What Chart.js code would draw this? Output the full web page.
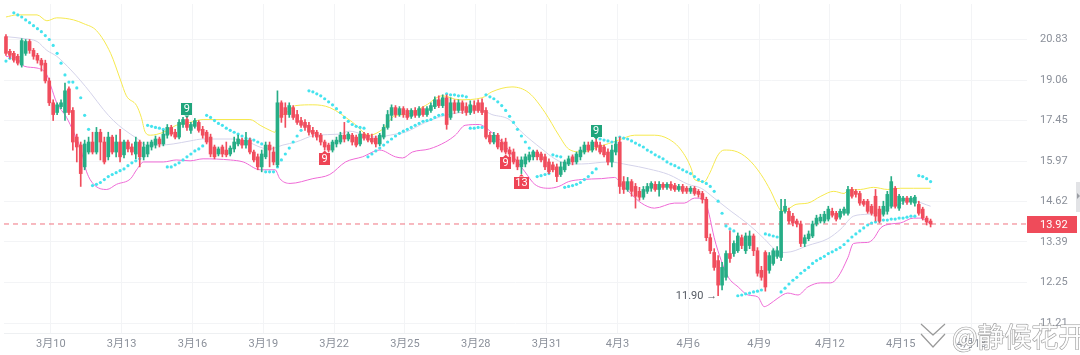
<!DOCTYPE html>
<html><head><meta charset="utf-8">
<script src="https://cdn.jsdelivr.net/npm/chart.js@4/dist/chart.umd.min.js"></script>
<style>html,body{margin:0;padding:0;background:#fff;overflow:hidden}#wrap{width:1080px;height:355px;position:relative}</style>
</head><body><div id="wrap"><canvas id="c" width="1080" height="355" style="width:1080px;height:355px"></canvas></div>
<script>
// ---- data (4-hour candles, index 0 = first candle) ----
const opens=[20.96,20.30,20.21,20.08,19.70,20.21,20.74,20.34,20.12,19.91,
19.78,19.03,18.14,17.76,17.99,17.76,18.70,17.84,16.83,16.54,
15.77,16.29,16.65,16.29,17.01,16.65,16.12,16.83,16.29,16.65,
16.19,16.65,16.47,16.22,16.65,16.12,16.22,16.47,16.54,16.76,
16.58,16.90,17.19,17.01,16.83,17.30,17.49,17.08,17.23,17.38,
17.12,17.01,16.83,16.47,16.22,16.47,16.36,16.22,16.40,16.58,
16.72,16.54,16.72,16.29,16.12,15.77,16.12,16.54,16.29,15.84,
18.14,17.95,17.68,17.95,17.68,17.45,17.38,17.27,17.08,17.01,
16.90,16.65,16.54,16.36,16.58,16.65,16.90,16.76,16.90,16.83,
16.58,16.94,16.90,16.79,16.79,16.58,16.83,17.19,17.65,17.95,
17.68,17.91,17.84,17.61,17.84,17.65,17.91,17.68,17.84,17.99,
18.26,18.03,18.34,17.57,18.14,17.84,18.14,17.99,17.76,18.03,
18.14,18.14,17.84,16.90,16.65,16.90,16.65,16.65,16.36,16.29,
16.01,15.77,15.87,16.01,16.12,16.29,16.22,16.12,15.94,15.84,
15.77,15.51,15.67,15.87,16.12,15.94,16.12,16.29,16.54,16.36,
16.65,16.54,16.47,16.29,15.94,16.29,16.65,15.27,15.01,15.27,
15.11,14.95,14.76,14.95,15.05,15.18,15.01,15.18,15.08,15.18,
15.14,15.01,15.11,15.05,14.95,15.05,14.95,14.88,14.69,13.51,
13.08,12.85,12.18,12.39,13.05,13.05,13.13,13.51,13.13,13.28,
13.56,13.13,12.58,13.08,12.58,12.77,12.97,12.94,14.31,14.31,
14.16,14.01,13.92,13.34,13.48,13.56,13.92,14.01,14.01,14.07,
14.31,14.25,14.13,14.25,14.25,15.01,14.95,14.88,14.63,14.63,
14.47,14.79,14.38,14.22,14.31,14.47,15.05,14.41,14.63,14.73,
14.60,14.57,14.53,14.38,14.10,14.01];
const highs=[21.05,20.39,20.30,20.17,20.87,20.83,20.83,20.43,20.21,19.99,
19.91,19.15,18.26,18.14,18.26,18.94,18.78,17.95,16.94,16.65,
16.72,16.83,17.01,17.19,17.12,16.83,17.01,16.90,16.90,17.12,
16.72,16.72,16.58,16.83,16.72,16.65,16.65,16.72,16.87,16.83,
17.08,17.30,17.27,17.12,17.49,17.57,17.57,17.38,17.53,17.45,
17.23,17.08,16.94,16.54,16.47,16.54,16.65,16.51,16.83,16.90,
16.79,17.01,16.79,16.36,16.22,16.36,16.65,16.65,16.47,18.62,
18.22,18.14,18.14,18.03,17.84,17.57,17.49,17.38,17.19,17.08,
16.97,16.72,16.61,16.72,16.83,17.01,17.38,17.01,16.97,16.90,
17.05,17.01,16.97,16.94,16.87,16.97,17.30,17.84,18.06,18.03,
17.99,17.99,17.91,17.91,17.95,17.99,17.99,17.99,18.14,18.38,
18.42,18.46,18.46,18.34,18.26,18.26,18.22,18.14,18.22,18.22,
18.26,18.30,17.95,17.01,17.01,16.97,16.76,16.79,16.47,16.40,
16.12,16.12,16.22,16.29,16.36,16.36,16.29,16.22,16.05,15.94,
15.87,15.94,16.01,16.15,16.19,16.29,16.47,16.65,16.65,16.72,
16.76,16.65,16.54,16.40,16.54,16.83,16.83,15.44,15.41,15.34,
15.21,15.08,15.11,15.21,15.27,15.27,15.27,15.24,15.24,15.27,
15.21,15.18,15.18,15.11,15.11,15.11,15.01,14.95,14.76,13.62,
13.19,12.99,12.80,13.13,13.71,13.42,13.65,13.59,13.65,13.71,
13.62,13.22,12.69,13.13,13.08,13.19,13.25,14.69,14.69,14.41,
14.25,14.07,14.01,13.59,13.71,14.01,14.19,14.22,14.31,14.47,
14.41,14.31,14.38,14.44,15.11,15.08,15.01,14.95,14.69,14.69,
14.53,15.01,14.47,14.63,14.95,15.44,15.11,14.85,14.79,14.79,
14.79,14.82,14.63,14.44,14.16,14.07];
const lows=[20.12,19.99,19.82,19.70,19.61,20.12,20.21,19.95,19.78,19.44,
18.94,18.03,17.45,17.68,17.91,17.45,17.68,16.36,15.94,15.11,
15.67,16.22,16.22,16.22,16.01,15.87,16.01,16.22,16.12,15.94,
16.08,16.29,16.19,16.05,15.77,16.01,16.12,16.36,16.43,16.47,
16.51,16.79,16.87,16.76,16.76,17.19,17.08,16.97,17.16,17.01,
16.79,16.58,16.12,16.05,16.15,16.12,16.12,16.15,16.29,16.51,
16.43,16.43,16.22,15.94,15.67,15.60,16.05,15.77,15.84,15.77,
17.38,17.19,17.57,17.49,17.30,17.19,17.08,16.90,16.83,16.72,
16.54,16.36,16.29,16.29,16.47,16.58,16.65,16.69,16.54,16.47,
16.51,16.72,16.65,16.58,16.47,16.51,16.76,17.12,17.45,17.57,
17.61,17.57,17.49,17.53,17.57,17.57,17.61,17.61,17.76,17.91,
17.95,17.95,17.12,17.49,17.72,17.76,17.72,17.65,17.68,17.72,
17.76,17.68,16.76,16.58,16.58,16.40,16.29,16.22,16.12,15.87,
15.67,15.54,15.77,15.94,16.01,16.01,15.94,15.67,15.54,15.60,
15.27,15.44,15.60,15.81,15.84,15.87,16.01,16.22,16.29,16.29,
16.36,16.22,16.12,15.84,15.77,16.19,14.88,14.88,14.95,14.79,
14.41,14.66,14.69,14.88,14.95,14.95,14.79,15.01,15.01,14.98,
14.95,14.95,14.88,14.88,14.88,14.82,14.76,14.57,13.42,13.05,
12.58,11.90,12.05,12.31,12.80,12.97,13.08,13.19,13.05,13.19,
12.99,12.42,12.31,12.02,12.50,12.72,12.91,12.85,14.25,13.92,
13.86,13.83,13.25,13.25,13.42,13.51,13.86,13.95,13.95,14.01,
14.13,14.01,14.07,14.19,14.19,14.73,14.76,14.50,14.47,14.25,
14.19,14.01,13.95,14.16,14.22,14.41,14.41,14.34,14.53,14.53,
14.53,14.47,14.19,14.04,13.89,13.83];
const closes=[20.21,20.12,19.91,19.78,20.78,20.74,20.34,20.08,19.91,19.70,
19.03,18.14,17.68,18.06,18.14,18.62,17.76,16.65,16.47,15.54,
16.58,16.65,16.29,17.01,16.65,15.94,16.83,16.29,16.65,16.12,
16.65,16.40,16.29,16.65,16.12,16.47,16.54,16.65,16.76,16.58,
16.94,17.19,16.94,16.83,17.38,17.49,17.19,17.30,17.45,17.08,
16.90,16.65,16.22,16.12,16.40,16.22,16.19,16.43,16.65,16.76,
16.54,16.72,16.29,16.01,15.77,16.22,16.54,16.36,15.94,18.14,
17.57,17.68,18.03,17.57,17.38,17.27,17.19,17.01,16.94,16.83,
16.65,16.47,16.36,16.65,16.72,16.90,16.76,16.94,16.65,16.54,
16.94,16.79,16.72,16.65,16.58,16.90,17.19,17.68,17.95,17.68,
17.91,17.68,17.57,17.84,17.65,17.91,17.68,17.91,18.03,18.26,
18.03,18.34,17.30,18.14,17.84,18.14,17.84,17.76,18.06,17.84,
17.84,17.76,16.83,16.65,16.90,16.47,16.36,16.29,16.22,15.94,
15.77,16.01,16.12,16.19,16.29,16.12,16.01,15.77,15.60,15.67,
15.44,15.77,15.94,16.05,15.94,16.22,16.36,16.54,16.36,16.65,
16.47,16.29,16.19,15.94,16.36,16.58,15.11,15.01,15.27,14.95,
14.79,14.76,15.01,15.11,15.21,15.01,15.18,15.08,15.18,15.05,
15.01,15.11,14.95,14.95,15.05,14.88,14.85,14.69,13.51,13.13,
12.66,12.18,12.66,13.05,12.91,13.34,13.56,13.28,13.56,13.56,
13.13,12.50,12.39,12.13,12.99,13.13,13.13,14.31,14.47,14.01,
13.95,13.92,13.34,13.51,13.62,13.92,14.10,14.13,14.22,14.38,
14.19,14.07,14.31,14.38,15.01,14.79,14.85,14.57,14.53,14.31,
14.25,14.16,14.01,14.47,14.85,15.27,14.47,14.79,14.73,14.60,
14.73,14.76,14.25,14.10,13.98,13.92];
// Parabolic SAR, one value per candle
const sar=[19.87,19.99,22.08,21.98,21.88,21.74,21.61,21.47,21.33,21.19,
21.01,20.83,20.56,20.21,19.78,19.28,18.98,18.98,18.74,18.34,
17.65,17.12,15.14,15.18,15.24,15.34,15.44,15.51,15.57,15.64,
15.70,15.81,15.91,15.98,16.05,16.15,17.27,17.23,17.19,17.16,
17.12,15.77,15.77,15.84,15.91,16.01,16.12,16.22,16.33,16.40,
16.51,17.65,17.57,17.45,17.34,17.27,17.16,17.08,17.01,16.94,
16.87,16.79,16.76,16.72,16.65,16.58,15.60,15.60,15.60,15.77,
16.01,16.22,16.43,16.65,16.87,17.08,17.27,18.62,18.58,18.50,
18.42,18.30,18.18,18.06,17.91,17.76,17.57,17.42,17.30,17.23,
17.19,17.16,16.12,16.22,16.33,16.43,16.54,16.65,16.76,16.87,
16.97,17.05,17.12,17.19,17.27,17.34,17.42,17.45,17.49,17.57,
17.65,17.68,18.50,18.46,18.46,18.42,18.42,18.38,17.16,17.16,
17.19,17.19,18.46,18.38,18.30,18.18,18.03,17.84,17.61,17.38,
17.12,16.87,16.65,16.43,16.29,15.44,15.47,15.51,15.54,16.19,
16.15,16.12,15.08,15.11,15.14,15.18,15.24,15.34,15.44,15.57,
15.70,16.76,16.72,16.69,16.65,16.65,16.83,16.79,16.76,16.69,
16.61,16.54,16.47,16.36,16.29,16.19,16.12,16.05,15.94,15.87,
15.81,15.74,15.67,15.60,15.54,15.44,15.34,15.27,15.21,15.11,
14.95,14.63,14.25,13.86,13.77,13.71,11.90,11.92,11.95,11.97,
12.00,12.02,12.05,13.62,13.59,13.56,13.53,12.00,12.10,12.21,
12.31,12.39,12.50,12.58,12.66,12.77,12.85,12.91,12.97,13.05,
13.10,13.16,13.22,13.31,13.42,13.53,13.62,13.71,13.80,13.89,
13.95,13.98,14.01,14.04,14.04,14.07,14.07,14.10,14.10,14.13,
14.16,14.16,15.47,15.44,15.37,15.27];
// Bollinger bands, read as [candle index, price]
const bollUpper=[[0,21.88],[2.8,21.98],[7.9,21.98],[10.4,21.70],[12.9,21.84],[17.2,21.74],[19.8,21.56],[23,21.24],[26.6,20.21],[29.1,19.07],[30.6,18.42],[33.2,18.03],[34.4,17.57],[35.4,17.01],[36.7,16.90],[40,17.01],[43.3,17.27],[46.8,17.38],[50.1,17.49],[62,17.49],[64.6,17.27],[67.1,17.08],[68.4,17.01],[69.6,17.65],[70.4,17.68],[73.7,18.03],[78,18.06],[82.3,17.95],[88.1,17.38],[92.4,16.90],[95.7,17.12],[99,17.65],[101.5,17.68],[106.6,18.03],[110.9,18.42],[115.2,18.26],[121,18.34],[123.5,18.58],[128.6,18.78],[132.9,18.54],[137,17.76],[140.5,16.90],[143,16.40],[146.3,16.29],[150.6,16.47],[155.7,16.72],[159.8,16.90],[164.8,16.90],[168.4,16.76],[171.6,16.36],[174.2,15.70],[175,15.34],[177.5,15.27],[178.7,15.51],[181,16.19],[182.5,16.36],[185.1,16.33],[188.6,16.05],[191.9,15.51],[194.4,14.95],[196.2,14.47],[197,14.34],[198.7,14.38],[200.8,14.53],[203.8,14.57],[207.1,14.79],[210.4,14.95],[213,14.88],[214,14.98],[217.2,15.01],[220.5,15.08],[224.1,15.01],[227.3,15.05],[230.6,15.05],[235,15.05]];
const bollMid=[[0,20.96],[4.6,20.87],[7.9,20.74],[10.4,20.34],[12.9,20.08],[16.5,19.49],[19,19.03],[21.5,18.54],[24.8,17.87],[27.3,17.45],[29.9,17.12],[33.2,16.79],[35.7,16.54],[39.2,16.54],[42.5,16.58],[46.8,16.69],[50.1,16.76],[57,16.76],[60.3,16.72],[65.3,16.43],[67.1,16.40],[70.4,16.54],[73.7,16.65],[78.7,16.90],[84.8,16.94],[87.3,17.05],[90.6,16.94],[93.9,16.83],[99,16.94],[101.5,17.01],[106.6,17.38],[111.7,17.65],[117.7,17.80],[121,17.84],[123.5,17.68],[127.9,17.49],[131.1,17.01],[136.2,16.40],[139.5,16.05],[143,15.87],[146.3,15.87],[153.2,15.94],[158.2,15.84],[163.3,15.70],[168.4,15.51],[173.4,15.18],[176.7,15.05],[180,14.73],[184.3,14.31],[188.6,13.92],[192.7,13.48],[195.2,13.19],[197,13.08],[199.5,13.10],[203.8,13.28],[208.9,13.48],[212.2,13.77],[215.4,14.16],[219,14.22],[222.3,14.28],[225.6,14.47],[230.6,14.63],[235,14.47]];
const bollLower=[[0,20.08],[2.8,19.99],[4.6,19.65],[7.9,19.57],[10.4,19.28],[11.4,18.82],[12.9,18.14],[15.4,17.57],[17.2,17.01],[19,16.40],[20.5,15.60],[22.3,15.18],[25.6,15.01],[28.1,15.18],[31.7,15.37],[33.2,15.67],[35,15.94],[40,15.94],[43.3,16.01],[46.8,15.98],[50.1,16.05],[57,16.01],[60.3,15.94],[64.6,15.67],[68.4,15.67],[69.6,15.37],[72.2,15.21],[78,15.37],[82.3,15.51],[86.3,15.94],[90.6,16.12],[95,16.36],[99,16.12],[100.8,16.08],[103.3,16.29],[107.6,16.40],[111.7,16.65],[114.2,16.90],[116.7,17.27],[120.3,17.30],[121,17.27],[122.8,17.08],[126.1,16.65],[129.4,16.05],[131.9,15.60],[134.4,15.18],[138,15.05],[140.5,15.11],[143,15.27],[146.3,15.34],[151.4,15.37],[154.7,15.41],[156.5,15.18],[159,14.85],[161.5,14.57],[164.8,14.41],[169.9,14.57],[172.4,14.57],[175,14.73],[177.5,14.69],[178.7,14.22],[180,13.51],[181.8,12.85],[183.6,12.39],[186.1,12.13],[188.6,11.92],[191.1,11.87],[192.7,11.62],[193.9,11.67],[196.2,11.84],[198.7,11.97],[201.3,11.92],[203.8,12.13],[207.1,12.24],[209.6,12.24],[211.4,12.39],[214,12.94],[215.4,13.34],[219,13.37],[220.5,13.48],[222.3,13.80],[224.8,13.92],[227.3,13.95],[230.6,14.10],[232.4,14.10],[235,13.92]];
// TD sequential counts
const tdMarks=[{i:46,text:'9',side:'up'},{i:81,text:'9',side:'down'},{i:127,text:'9',side:'down'},{i:131,text:'13',side:'down'},{i:150,text:'9',side:'up'}];
const dateLabels=['3月10','3月13','3月16','3月19','3月22','3月25','3月28','3月31','4月3','4月6','4月9','4月12','4月15','4月18'];
const firstLabelIndex=11.4, candlesPerDay=6, daysPerLabel=3;
const priceTicks=[20.83,19.06,17.45,15.97,14.62,13.39,12.25,11.21];
const wmText='@静候花开';

// ---- chart ----
const UP='#26ad86', DOWN='#f04d5d';
const isUp=i=>closes[i]>=opens[i];
const lastClose=closes[closes.length-1];
const xMin=-0.5, xMax=259.5;
Chart.defaults.font.family='Roboto, "Noto Sans CJK SC", sans-serif';

const overlay={
  id:'overlay',
  afterDatasetsDraw(chart){
    const c=chart.ctx, xs=chart.scales.x, ys=chart.scales.y;
    c.save();
    c.font='11px Roboto';c.textAlign='center';c.textBaseline='middle';
    tdMarks.forEach(m=>{
      const x=xs.getPixelForValue(m.i);
      const w=m.text.length>1?15:11, h=12;
      const col=m.side==='up'?'#1fa57c':'#ee4455';
      c.fillStyle=col;
      let top;
      if(m.side==='up'){
        const yb=ys.getPixelForValue(highs[m.i])-2;
        top=yb-h;
        c.fillRect(Math.round(x-w/2),Math.round(top),w,h);
        c.beginPath();c.moveTo(x-2.5,yb);c.lineTo(x+2.5,yb);c.lineTo(x,yb+2.5);c.fill();
      }else{
        top=ys.getPixelForValue(lows[m.i])+3;
        c.fillRect(Math.round(x-w/2),Math.round(top),w,h);
        c.beginPath();c.moveTo(x-2.5,top);c.lineTo(x+2.5,top);c.lineTo(x,top-2.5);c.fill();
      }
      c.fillStyle='#fff';
      c.fillText(m.text,x,Math.round(top)+h/2+0.5);
    });
    let li=0;lows.forEach((v,i)=>{if(v<lows[li])li=i;});
    const lx=xs.getPixelForValue(li), ly=ys.getPixelForValue(lows[li]);
    c.font='11px Roboto';c.fillStyle='#555a63';c.textAlign='right';c.textBaseline='middle';
    c.fillText(lows[li].toFixed(2)+' →',lx-1,ly);
    c.restore();
  },
  afterDraw(chart){
    const c=chart.ctx, ys=chart.scales.y, a=chart.chartArea;
    c.save();
    const py=Math.round(ys.getPixelForValue(lastClose));
    c.fillStyle='#ef4b5a';c.fillRect(a.right,py-8,50,17);
    c.fillStyle='#fff';c.font='11px Roboto';c.textAlign='left';c.textBaseline='middle';
    c.fillText(lastClose.toFixed(2),a.right+13,py+1);
    c.fillStyle='#e2e3e6';c.fillRect(1076,182,4,30);
    c.fillStyle='#9a9da3';c.beginPath();c.moveTo(1077,193);c.lineTo(1080,196);c.lineTo(1077,199);c.fill();
    // watermark
    c.lineJoin='round';
    c.strokeStyle='rgba(135,135,135,0.85)';c.fillStyle='rgba(255,255,255,0.95)';c.lineWidth=1.2;
    c.beginPath();c.moveTo(921,324);c.lineTo(933,335);c.lineTo(945,324);
    c.moveTo(921,334);c.lineTo(933,347);c.lineTo(945,334);c.stroke();
    c.font='27px "Noto Sans CJK SC"';c.textAlign='left';c.textBaseline='alphabetic';
    c.strokeText(wmText,952,347);c.fillText(wmText,952,347);
    c.restore();
  }
};

new Chart(document.getElementById('c'),{
  type:'bar',
  data:{datasets:[
    {type:'bar',label:'body',order:1,grouped:false,barThickness:3,minBarLength:1,
      data:opens.map((o,i)=>({x:i,y:[o,closes[i]]})),
      backgroundColor:ctx=>isUp(ctx.dataIndex)?UP:DOWN,borderWidth:0},
    {type:'bar',label:'wick',order:2,grouped:false,barThickness:1,minBarLength:1,
      data:lows.map((l,i)=>({x:i,y:[l,highs[i]]})),
      backgroundColor:ctx=>isUp(ctx.dataIndex)?UP:DOWN,borderWidth:0},
    {type:'line',label:'sar',order:3,showLine:false,
      data:sar.map((v,i)=>({x:i,y:v})),pointRadius:1.6,pointBackgroundColor:'#45e3ee',pointBorderWidth:0},
    {type:'line',label:'upper',order:4,data:bollUpper.map(p=>({x:p[0],y:p[1]})),
      borderColor:'#f6e94e',borderWidth:1,pointRadius:0,cubicInterpolationMode:'monotone'},
    {type:'line',label:'mid',order:5,data:bollMid.map(p=>({x:p[0],y:p[1]})),
      borderColor:'#d4d3ea',borderWidth:1,pointRadius:0,cubicInterpolationMode:'monotone'},
    {type:'line',label:'lower',order:6,data:bollLower.map(p=>({x:p[0],y:p[1]})),
      borderColor:'#ef6ad6',borderWidth:1,pointRadius:0,cubicInterpolationMode:'monotone'},
    {type:'line',label:'last',order:7,data:[{x:xMin,y:lastClose},{x:xMax,y:lastClose}],
      borderColor:'#f07480',borderWidth:1,borderDash:[5,4],pointRadius:0}
  ]},
  options:{
    responsive:false,animation:false,devicePixelRatio:1,
    layout:{padding:0},
    plugins:{legend:{display:false},tooltip:{enabled:false}},
    scales:{
      x:{type:'linear',min:xMin,max:xMax,offset:false,
        afterBuildTicks:s=>{s.ticks=dateLabels.map((l,k)=>({value:firstLabelIndex+k*candlesPerDay*daysPerLabel}));},
        afterFit:s=>{s.height=22;s.paddingLeft=0;s.paddingRight=0;},
        ticks:{autoSkip:false,maxRotation:0,padding:5,color:'#8b909a',font:{size:11},callback:(v,idx)=>dateLabels[idx]},
        grid:{color:'#f3f4f6',drawTicks:false,offset:false},border:{color:'#eef0f2'}},
      y:{type:'logarithmic',position:'right',min:10.97,max:22.51,bounds:'data',
        afterBuildTicks:s=>{s.ticks=priceTicks.map(v=>({value:v}));},
        afterFit:s=>{s.width=53;s.paddingTop=0;s.paddingBottom=0;},
        ticks:{autoSkip:false,padding:13,color:'#8b909a',font:{size:11},callback:v=>Number(v).toFixed(2)},
        grid:{color:'#f3f4f6',drawTicks:false},border:{display:false}}
    }
  },
  plugins:[overlay]
});
</script></body></html>
